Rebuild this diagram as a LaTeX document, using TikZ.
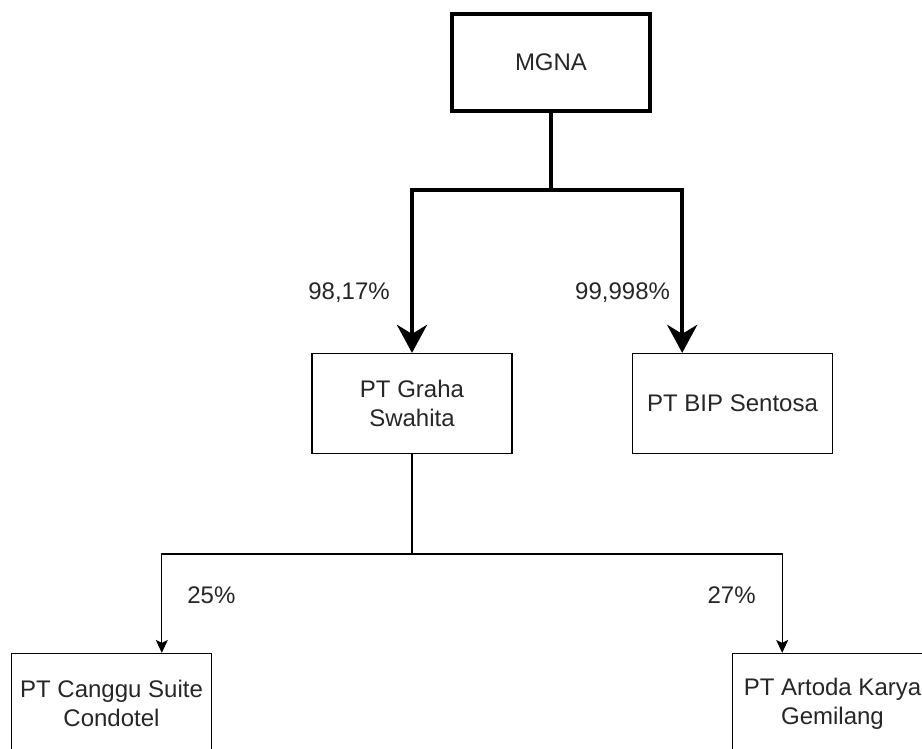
\documentclass[tikz,border=0pt]{standalone}
\usepackage{fontspec}
\setmainfont{Liberation Sans}
\usetikzlibrary{arrows.meta,calc}

\begin{document}
\begin{tikzpicture}[x=1pt, y=-1pt,
  box/.style={draw, line width=1.2pt, align=center, minimum width=200, minimum height=100,
    text=black!85, font=\fontsize{24}{29}\selectfont},
  pct/.style={text=black!85, font=\fontsize{24}{29}\selectfont, inner sep=0pt},
  big/.style={line width=4.5pt, -{Stealth[length=28pt, width=30pt, inset=9pt]}},
  small/.style={line width=1.2pt, -{Stealth[length=13pt, width=12pt, inset=3pt]}}]
\path [use as bounding box, clip] (0,0) rectangle (922,749);

\node (D1) at (551,62.5) [box, line width=4.5pt, minimum width=198, minimum height=97] {MGNA};
\node (D2) at (412,403.5) [box] {PT Graha\\Swahita};
\node (D3) at (732.5,403.5) [box] {PT BIP Sentosa};
\node (D4) at (111.5,703.5) [box] {PT Canggu Suite\\Condotel};
\node (D5) at (832.5,703.5) [box] {PT Artoda Karya\\Gemilang};

\coordinate (J1) at (551,190);
\coordinate (J2) at (412,554);
\coordinate (T3) at ($(D3.north west)!0.25!(D3.north east)$);
\coordinate (T4) at ($(D4.north west)!0.75!(D4.north east)$);
\coordinate (T5) at ($(D5.north west)!0.25!(D5.north east)$);

\draw [line width=4.5pt] (D1) -- (J1);
\draw [big] (J1) -| (D2) node[pos=0.816, pct, anchor=east, xshift=-20] {98,17\%};
\draw [big] (J1) -| (T3) node[pos=0.816, pct, anchor=east, xshift=-10] {99,998\%};
\draw [line width=1.2pt] (D2) -- (J2);
\draw [small] (J2) -| (T4) node[pos=0.707, pct, anchor=west, xshift=25] {25\%};
\draw [small] (J2) -| (T5) node[pos=0.707, pct, anchor=east, xshift=-26] {27\%};
\end{tikzpicture}
\end{document}
